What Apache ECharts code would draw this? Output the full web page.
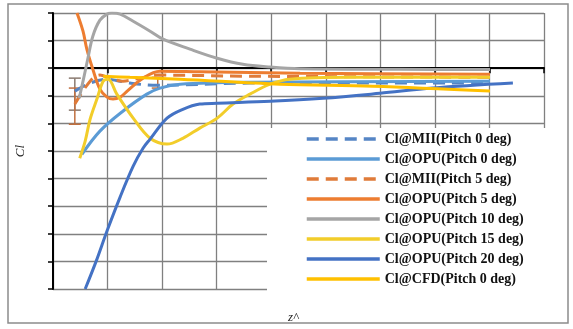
<!DOCTYPE html>
<html>
<head>
<meta charset="utf-8">
<script src="https://cdn.jsdelivr.net/npm/echarts@6/dist/echarts.min.js"></script>
<style>
  html, body { margin: 0; padding: 0; background: #fff; }
  #chart { width: 573px; height: 329px; }
</style>
</head>
<body>
<div id="chart"></div>
<script>
// series names, as in the legend
const seriesNames = [
  "Cl@MII(Pitch 0 deg)",
  "Cl@OPU(Pitch 0 deg)",
  "Cl@MII(Pitch 5 deg)",
  "Cl@OPU(Pitch 5 deg)",
  "Cl@OPU(Pitch 10 deg)",
  "Cl@OPU(Pitch 15 deg)",
  "Cl@OPU(Pitch 20 deg)",
  "Cl@CFD(Pitch 0 deg)"
];

// [x, Cl] pairs
const mii0 = [[0.40, -0.83], [0.68, -0.54], [0.99, -0.40], [1.41, -0.54], [1.92, -0.62], [3.61, -0.54], [8.01, -0.54]];
const opu0 = [[0.53, -3.12], [0.86, -2.28], [1.28, -1.56], [1.72, -0.94], [1.96, -0.72], [2.33, -0.58], [3.61, -0.51], [8.01, -0.47]];
const mii5 = [[0.40, -1.30], [0.68, -0.47], [0.86, -0.25], [1.04, -0.36], [1.28, -0.47], [1.59, -0.36], [1.92, -0.25], [3.61, -0.29], [8.01, -0.33]];
const opu5 = [[0.44, 2.0], [0.55, 1.34], [0.62, 0.69], [0.73, -0.04], [0.86, -0.76], [0.99, -1.05], [1.10, -1.12], [1.23, -1.05],
  [1.36, -0.83], [1.65, -0.36], [1.96, -0.11], [2.69, -0.13], [4.53, -0.18], [8.01, -0.22]];
const opu10 = [[0.48, -1.09], [0.57, -0.29], [0.64, 0.36], [0.73, 1.16], [0.86, 1.74], [0.99, 1.96], [1.08, 2.0], [1.23, 1.96],
  [1.47, 1.70], [1.78, 1.34], [2.02, 1.05], [2.51, 0.69], [3.01, 0.36], [3.48, 0.14], [3.98, 0.04], [4.53, -0.02], [6.36, -0.04], [8.01, -0.05]];
const opu15 = [[0.49, -3.26], [0.59, -2.64], [0.68, -1.85], [0.81, -1.09], [0.92, -0.47], [1.01, -0.40], [1.17, -0.94], [1.47, -1.81],
  [1.78, -2.54], [2.09, -2.75], [2.38, -2.54], [2.69, -2.17], [3.01, -1.81], [3.30, -1.30], [3.61, -0.94], [3.98, -0.58],
  [4.34, -0.40], [5.44, -0.33], [8.01, -0.33]];
const opu20 = [[0.59, -8.0], [0.79, -7.0], [0.99, -5.9], [1.23, -4.67], [1.47, -3.55], [1.65, -2.9], [1.78, -2.57], [2.09, -1.81],
  [2.38, -1.49], [2.69, -1.30], [3.01, -1.27], [3.98, -1.20], [4.95, -1.09], [5.99, -0.91], [6.96, -0.72], [8.43, -0.54]];
const cfd0 = [[0.92, -0.29], [1.41, -0.33], [2.33, -0.40], [4.16, -0.58], [5.86, -0.65], [8.01, -0.83]];

// error bars of the measured data: [x, low, high]
const mii0Err = [[0.40, -1.52, -0.36]];
const mii5Err = [[0.40, -2.03, -0.72], [1.92, -0.72, -0.33]];

const colors = ["#5585c5", "#5b9bd5", "#e07b39", "#ed7d31", "#a5a5a5", "#f2cd2a", "#4472c4", "#ffc000"];
const dashed = [true, false, true, false, false, false, false, false];
const lineData = [mii0, opu0, mii5, opu5, opu10, opu15, opu20, cfd0];

const chart = echarts.init(document.getElementById("chart"));

const series = lineData.map((d, i) => ({
  name: seriesNames[i],
  type: "line",
  data: d,
  symbol: "none",
  smooth: 0.35,
  color: colors[i],
  lineStyle: { width: 3, color: colors[i], type: dashed[i] ? [12, 7] : "solid" }
}));

const errSeries = (data, color) => ({
  type: "custom",
  data: data,
  z: 3,
  renderItem: (params, api) => {
    const x = api.value(0);
    const lo = api.coord([x, api.value(1)]);
    const hi = api.coord([x, api.value(2)]);
    const w = 6;
    return {
      type: "group",
      children: [
        { type: "line", shape: { x1: lo[0], y1: lo[1], x2: hi[0], y2: hi[1] }, style: { stroke: color, lineWidth: 1.5 } },
        { type: "line", shape: { x1: lo[0] - w, y1: lo[1], x2: lo[0] + w, y2: lo[1] }, style: { stroke: color, lineWidth: 1.5 } },
        { type: "line", shape: { x1: hi[0] - w, y1: hi[1], x2: hi[0] + w, y2: hi[1] }, style: { stroke: color, lineWidth: 1.5 } }
      ]
    };
  }
});

series.push(errSeries(mii0Err, "#8a7a70"));
series.push(errSeries(mii5Err, "#c07040"));

chart.setOption({
  animation: false,
  backgroundColor: "#fff",
  title: {
    text: "z^",
    left: 283,
    top: 306,
    textStyle: { fontFamily: "Liberation Serif", fontSize: 13, fontWeight: "normal", fontStyle: "italic", color: "#222" }
  },
  graphic: [{
    type: "rect",
    shape: { x: 8, y: 4, width: 560, height: 319 },
    style: { fill: "none", stroke: "#8c8c8c", lineWidth: 1.5 },
    silent: true
  }],
  grid: { left: 53, right: 29, top: 13, bottom: 40 },
  legend: {
    data: seriesNames,
    orient: "vertical",
    left: 267,
    top: 128,
    padding: [4, 30, 10, 38],
    backgroundColor: "#fff",
    itemWidth: 73,
    itemHeight: 14,
    itemGap: 6,
    itemStyle: { opacity: 0 },
    lineStyle: { width: 3.5 },
    textStyle: { fontFamily: "Liberation Serif", fontSize: 14, fontWeight: "bold", lineHeight: 14, color: "#111" }
  },
  xAxis: {
    type: "value",
    min: 0,
    max: 9,
    interval: 1,
    axisLine: { onZero: true, lineStyle: { color: "#000", width: 2 } },
    axisTick: { show: true, length: 5, lineStyle: { color: "#000", width: 1.5 } },
    axisLabel: { show: false },
    splitLine: { show: true, lineStyle: { color: "#808080", width: 1.3 } }
  },
  yAxis: {
    type: "value",
    min: -8,
    max: 2,
    interval: 1,
    name: "Cl",
    nameLocation: "middle",
    nameGap: 26,
    nameTextStyle: { fontFamily: "Liberation Serif", fontSize: 13, fontStyle: "italic", color: "#222" },
    axisLine: { show: true, onZero: false, lineStyle: { color: "#000", width: 2 } },
    axisTick: { show: true, length: 5, lineStyle: { color: "#000", width: 1.5 } },
    axisLabel: { show: false },
    splitLine: { show: true, lineStyle: { color: "#808080", width: 1.3 } }
  },
  series: series
});
</script>
</body>
</html>
